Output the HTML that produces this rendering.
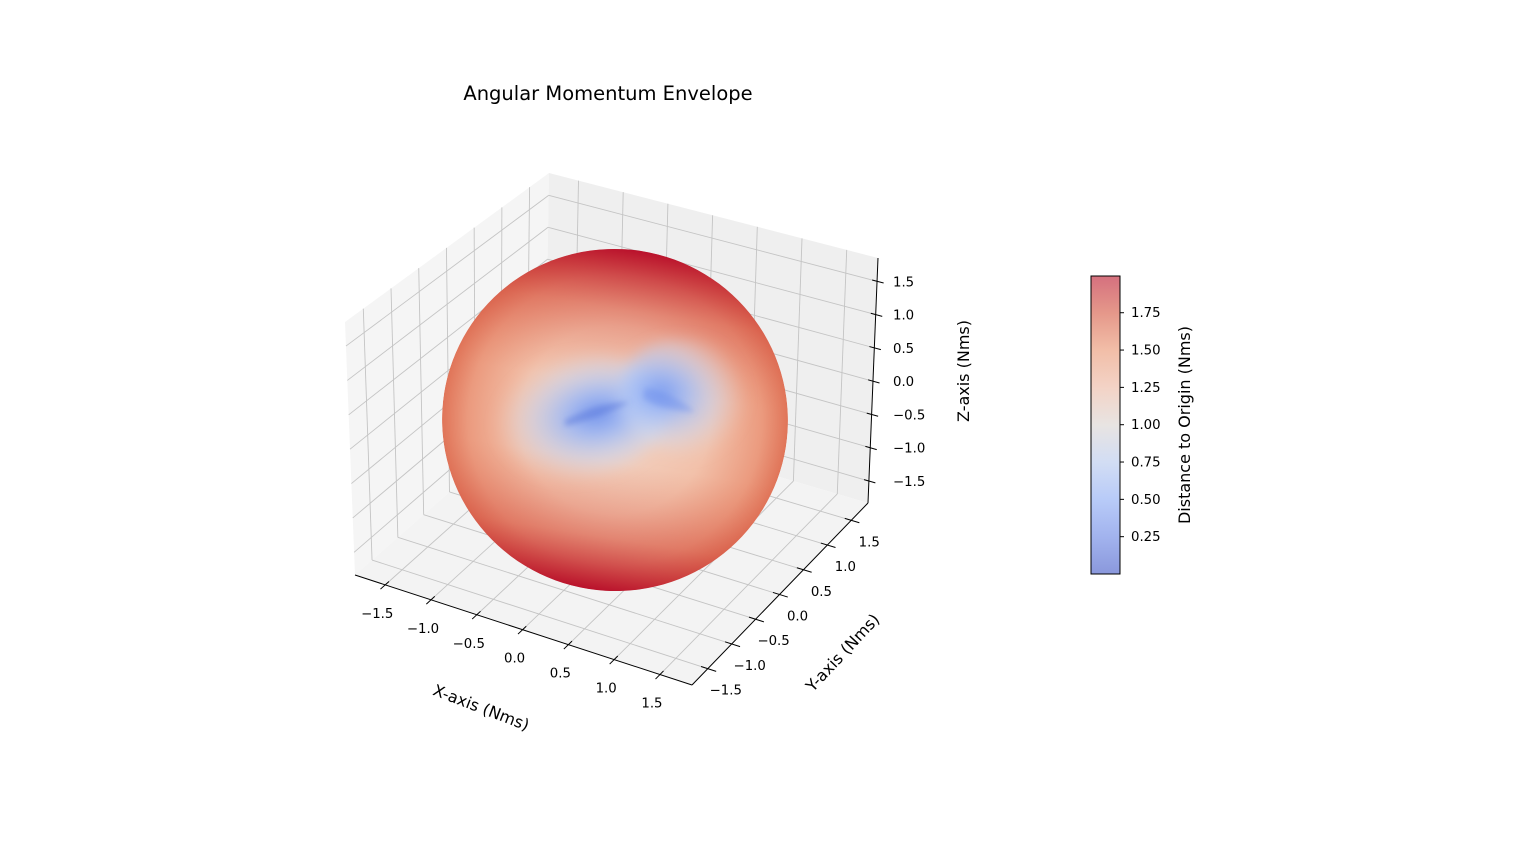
<!DOCTYPE html>
<html><head><meta charset="utf-8"><style>
html,body{margin:0;padding:0;background:#fff;}
svg{display:block;font-family:"DejaVu Sans","Liberation Sans",sans-serif;}
</style></head><body>
<svg id="chart" width="1536" height="850" viewBox="0 0 1536 850" xmlns="http://www.w3.org/2000/svg">
<defs>
  <radialGradient id="sphereBase" cx="0.5" cy="0.5" r="0.5">
    <stop offset="0" stop-color="#f1d6c8"/>
    <stop offset="0.55" stop-color="#f2c1aa"/>
    <stop offset="0.85" stop-color="#eb9a7e"/>
    <stop offset="1" stop-color="#e07458"/>
  </radialGradient>
  <linearGradient id="sphereVert" x1="0" y1="0" x2="0" y2="1">
    <stop offset="0" stop-color="#b40426" stop-opacity="0.9"/>
    <stop offset="0.18" stop-color="#d0473d" stop-opacity="0.4"/>
    <stop offset="0.4" stop-color="#e07a60" stop-opacity="0"/>
    <stop offset="0.62" stop-color="#e07a60" stop-opacity="0"/>
    <stop offset="0.84" stop-color="#d0473d" stop-opacity="0.4"/>
    <stop offset="1" stop-color="#b40426" stop-opacity="0.9"/>
  </linearGradient>
  <radialGradient id="lobeL" cx="0.62" cy="0.5" r="0.55">
    <stop offset="0" stop-color="#7292ec"/>
    <stop offset="0.3" stop-color="#98b6f8" stop-opacity="0.85"/>
    <stop offset="0.65" stop-color="#c8d6f2" stop-opacity="0.55"/>
    <stop offset="1" stop-color="#e8dcd6" stop-opacity="0"/>
  </radialGradient>
  <radialGradient id="lobeR" cx="0.3" cy="0.5" r="0.6">
    <stop offset="0" stop-color="#7a9bef"/>
    <stop offset="0.3" stop-color="#9fbbf8" stop-opacity="0.85"/>
    <stop offset="0.65" stop-color="#cbd8f2" stop-opacity="0.5"/>
    <stop offset="1" stop-color="#e8dcd6" stop-opacity="0"/>
  </radialGradient>
  <linearGradient id="cbar" x1="0" y1="1" x2="0" y2="0">
    <stop offset="0" stop-color="#8a98dc"/>
    <stop offset="0.125" stop-color="#a2b3ee"/>
    <stop offset="0.25" stop-color="#b8cbf8"/>
    <stop offset="0.375" stop-color="#d2ddf4"/>
    <stop offset="0.5" stop-color="#e8e4e2"/>
    <stop offset="0.625" stop-color="#f3d3c6"/>
    <stop offset="0.75" stop-color="#f2bea8"/>
    <stop offset="0.875" stop-color="#e5988a"/>
    <stop offset="1" stop-color="#d5707e"/>
  </linearGradient>
  <clipPath id="sphereClip"><ellipse cx="615" cy="420" rx="173" ry="171" transform="rotate(9 615 420)"/></clipPath>
  <filter id="blur6"><feGaussianBlur stdDeviation="7"/></filter>
  <filter id="blur3"><feGaussianBlur stdDeviation="3"/></filter>
</defs>
<text x="608" y="100" text-anchor="middle" font-size="19.5" fill="#000">Angular Momentum Envelope</text>
<g id="panes"></g>
<g id="grid"></g>
<g id="surface" clip-path="url(#sphereClip)">
  <ellipse cx="615" cy="420" rx="173" ry="171" transform="rotate(9 615 420)" fill="url(#sphereBase)"/>
  <ellipse cx="615" cy="420" rx="175" ry="172" transform="rotate(9 615 420)" fill="url(#sphereVert)"/>
  <g filter="url(#blur6)">
    <ellipse cx="575" cy="418" rx="95" ry="62" transform="rotate(-10 575 418)" fill="url(#lobeL)"/>
    <ellipse cx="690" cy="398" rx="72" ry="58" transform="rotate(12 690 398)" fill="url(#lobeR)"/>
  </g>
  <g filter="url(#blur3)">
    <path d="M565,420 Q600,402 630,402 Q605,416 565,426 Z" fill="#5a78dc" opacity="0.5"/>
    <path d="M643,398 Q660,410 695,412 Q672,392 645,388 Z" fill="#6a8aea" opacity="0.4"/>
  </g>
</g>
<g id="axes"></g>
<text x="481" y="713" text-anchor="middle" font-size="16" transform="rotate(21 481 708)">X-axis (Nms)</text>
<text x="843" y="658" text-anchor="middle" font-size="16" transform="rotate(-47 843 653)">Y-axis (Nms)</text>
<text x="964" y="376" text-anchor="middle" font-size="16" transform="rotate(-90 964 371)">Z-axis (Nms)</text>
<g id="colorbar">
  <rect x="1091" y="276" width="29" height="298" fill="url(#cbar)" stroke="#000" stroke-width="1"/>
</g>
<text x="1184" y="431" text-anchor="middle" font-size="16" transform="rotate(-90 1184 425)">Distance to Origin (Nms)</text>
</svg>
<script>
const axisTicks = [-1.5, -1.0, -0.5, 0.0, 0.5, 1.0, 1.5];
const axisTickLabels = ["\u22121.5", "\u22121.0", "\u22120.5", "0.0", "0.5", "1.0", "1.5"];
const cbarTicks = [0.25, 0.5, 0.75, 1.0, 1.25, 1.5, 1.75];
const cbarTickLabels = ["0.25", "0.50", "0.75", "1.00", "1.25", "1.50", "1.75"];
const cbarMin = 0.0, cbarMax = 1.996;
const axLo = -1.83, axHi = 1.85;

const NS = "http://www.w3.org/2000/svg";
const botC = {A:[355,575], B:[692,685], C:[868,503], D:[545,408]};
const topC = {A:[345,322], B:[697,425], C:[878,258], D:[549,173]};
function lerp(p,q,t){return [p[0]+(q[0]-p[0])*t, p[1]+(q[1]-p[1])*t];}
function P(u,v,w){
  const b = lerp(lerp(botC.A,botC.B,u), lerp(botC.D,botC.C,u), v);
  const t = lerp(lerp(topC.A,topC.B,u), lerp(topC.D,topC.C,u), v);
  return lerp(b,t,w);
}
function n(val){return (val-axLo)/(axHi-axLo);}
function mk(tag, attrs, parent){
  const e = document.createElementNS(NS, tag);
  for (const k in attrs) e.setAttribute(k, attrs[k]);
  parent.appendChild(e);
  return e;
}
function poly(pts){return pts.map(p=>p[0].toFixed(1)+","+p[1].toFixed(1)).join(" ");}
const panes = document.getElementById("panes");
let el;
el = mk("polygon", {points: poly([P(0,0,0),P(0,1,0),P(0,1,1),P(0,0,1)]), fill:"#f5f5f5"}, panes);


el = mk("polygon", {points: poly([P(0,1,0),P(1,1,0),P(1,1,1),P(0,1,1)]), fill:"#efefef"}, panes);


el = mk("polygon", {points: poly([P(0,0,0),P(1,0,0),P(1,1,0),P(0,1,0)]), fill:"#f3f3f3"}, panes);



const grid = document.getElementById("grid");
function gl(p,q,name){
  const l = mk("line", {x1:p[0],y1:p[1],x2:q[0],y2:q[1],stroke:"#c4c4c4","stroke-width":0.9}, grid);
  
  
}
axisTicks.forEach(t=>{
  const f = n(t);
  gl(P(0,f,0),P(0,f,1),'grid-line-y');
  gl(P(1,f,0),P(0,f,0),'grid-line-y');
  gl(P(f,1,0),P(f,1,1),'grid-line-x');
  gl(P(f,0,0),P(f,1,0),'grid-line-x');
  gl(P(0,0,f),P(0,1,f),'grid-line-z');
  gl(P(0,1,f),P(1,1,f),'grid-line-z');
});

const axes = document.getElementById("axes");
function al(p,q,name,w){
  const l = mk("line", {x1:p[0],y1:p[1],x2:q[0],y2:q[1],stroke:"#000","stroke-width":w}, axes);
  
  
}
function tx(x,y,s,anchor,name){
  const t = mk("text", {x:x,y:y,"font-size":13.3,"text-anchor":anchor,fill:"#000"}, axes);
  t.textContent = s;
  
  
}
al(P(0,0,0),P(1,0,0),'x-axis-line',1);
al(P(1,0,0),P(1,1,0),'y-axis-line',1);
al(P(1,1,0),P(1,1,1),'z-axis-line',1);
axisTicks.forEach((t,i)=>{
  const f = n(t);
  const px = P(f,0,0);
  al(P(f,-0.025,0),P(f,0.02,0),'x-tick',1);
  tx(px[0]-8, px[1]+33, axisTickLabels[i], "middle", 'x-tick-label');
  const py = P(1,f,0);
  al(P(0.98,f,0),P(1.025,f,0),'y-tick',1);
  tx(py[0]+18, py[1]+26, axisTickLabels[i], "middle", 'y-tick-label');
  const pz = P(1,1,f);
  al(P(0.985,1,f),P(1.02,1,f),'z-tick',1);
  tx(893, pz[1]+5, axisTickLabels[i], "start", 'z-tick-label');
});

const cb = document.getElementById("colorbar");
const cbY0 = 574, cbY1 = 276;
function cy(v){return cbY0 - (v-cbarMin)/(cbarMax-cbarMin)*(cbY0-cbY1);}
cbarTicks.forEach((v,i)=>{
  const y = cy(v);
  const l = mk("line", {x1:1120,y1:y,x2:1124,y2:y,stroke:"#000","stroke-width":1}, cb);
  
  
  const t = mk("text", {x:1131,y:y+4.5,"font-size":13.3,fill:"#000"}, cb);
  t.textContent = cbarTickLabels[i];
  
  
});
</script>
</body></html>
